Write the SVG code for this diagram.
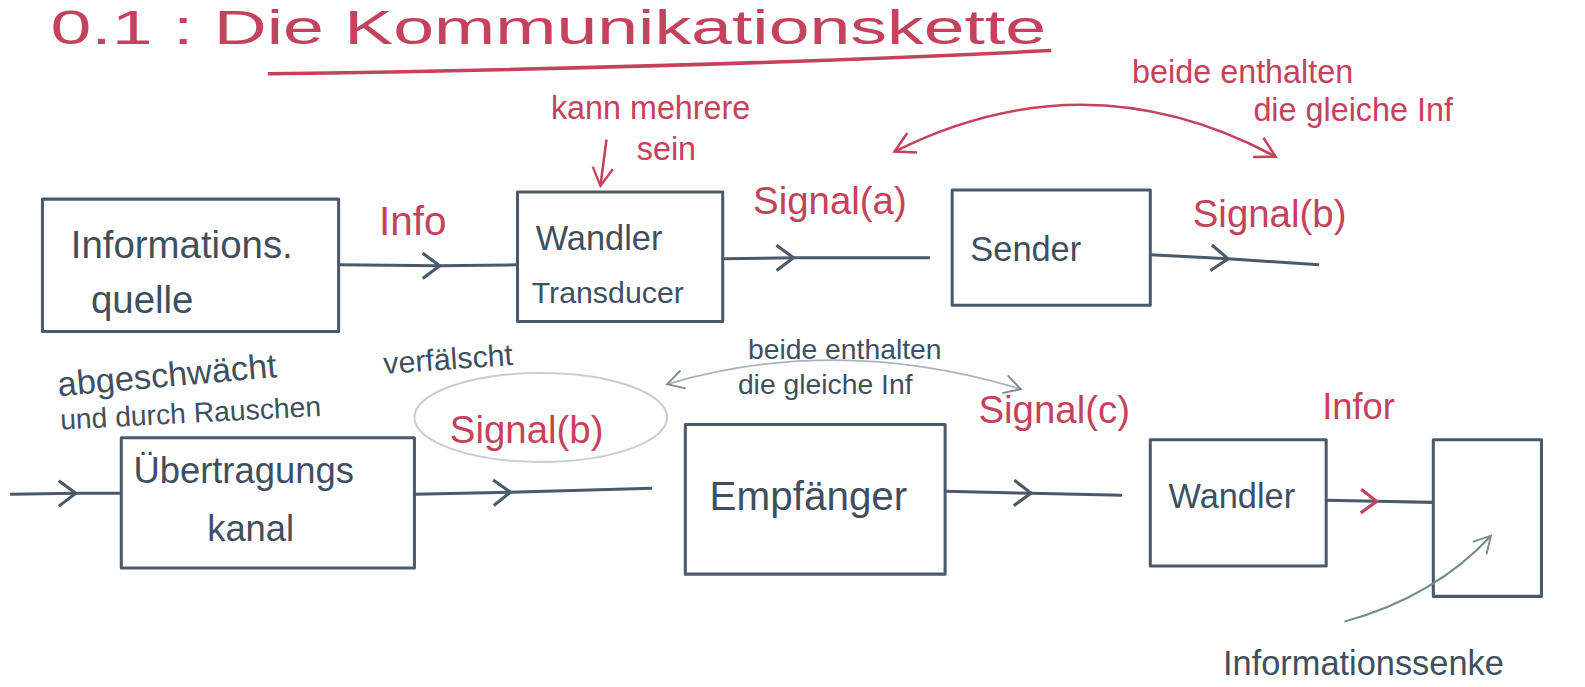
<svg xmlns="http://www.w3.org/2000/svg" width="1585" height="687" viewBox="0 0 1585 687">
<style>
.box{fill:none;stroke:#4a5a6a;stroke-width:3;stroke-linejoin:round}
.t{font-family:"Liberation Sans",Arial,sans-serif;fill:#3f4f5f}
.r{font-family:"Liberation Sans",Arial,sans-serif;fill:#c5425c}
.ln{fill:none;stroke:#4a5a6a;stroke-width:3;marker-mid:url(#chev)}
.lnr{fill:none;stroke:#4a5a6a;stroke-width:3;marker-mid:url(#chevr)}
</style>
<defs>
<marker id="chev" viewBox="0 0 20 20" refX="14" refY="10" markerWidth="28" markerHeight="28" markerUnits="userSpaceOnUse" orient="auto">
<path d="M2,1 L14,10 L2,19" fill="none" stroke="#4a5a6a" stroke-width="2.2"/>
</marker>
<marker id="chevr" viewBox="0 0 20 20" refX="14" refY="10" markerWidth="26" markerHeight="26" markerUnits="userSpaceOnUse" orient="auto">
<path d="M2,1 L14,10 L2,19" fill="none" stroke="#c5425c" stroke-width="2.4"/>
</marker>
<marker id="redhead" viewBox="0 0 24 24" refX="20" refY="12" markerWidth="26" markerHeight="26" markerUnits="userSpaceOnUse" orient="auto-start-reverse">
<path d="M2,2 L20,12 L2,22" fill="none" stroke="#c5425c" stroke-width="2.3"/>
</marker>
<marker id="grayhead" viewBox="0 0 24 24" refX="20" refY="12" markerWidth="22" markerHeight="22" markerUnits="userSpaceOnUse" orient="auto-start-reverse">
<path d="M2,2 L20,12 L2,22" fill="none" stroke="#7d8a94" stroke-width="2"/>
</marker>
<marker id="darkhead" viewBox="0 0 24 24" refX="20" refY="12" markerWidth="24" markerHeight="24" markerUnits="userSpaceOnUse" orient="auto">
<path d="M2,2 L20,12 L2,22" fill="none" stroke="#c5425c" stroke-width="2.3"/>
</marker>
</defs>
<rect width="1585" height="687" fill="#ffffff"/>
<g transform="scale(1.0108)">
<g id="title">
<text class="r" x="50" y="44" font-size="48" textLength="985" lengthAdjust="spacingAndGlyphs">0.1 : Die Kommunikationskette</text>
<path d="M265,73 C480,70 760,64 1040,50" fill="none" stroke="#c5425c" stroke-width="3.5"/>
</g>
<g id="n-quelle">
<rect class="box" x="42" y="197" width="293" height="131"/>
<text class="t" x="70" y="255" font-size="38">Informations.</text>
<text class="t" x="90" y="310" font-size="38">quelle</text>
</g>
<g id="n-wandler1">
<rect class="box" x="512" y="190" width="203" height="128"/>
<text class="t" x="530" y="247" font-size="34">Wandler</text>
<text class="t" x="526" y="300" font-size="30">Transducer</text>
</g>
<g id="n-sender">
<rect class="box" x="942" y="188" width="196" height="114"/>
<text class="t" x="960" y="258" font-size="34">Sender</text>
</g>
<g id="n-kanal">
<rect class="box" x="120" y="433" width="290" height="129"/>
<text class="t" x="132" y="478" font-size="36">Übertragungs</text>
<text class="t" x="205" y="535" font-size="36">kanal</text>
</g>
<g id="n-empfaenger">
<rect class="box" x="678" y="420" width="257" height="148"/>
<text class="t" x="702" y="505" font-size="40">Empfänger</text>
</g>
<g id="n-wandler2">
<rect class="box" x="1138" y="435" width="174" height="125"/>
<text class="t" x="1156" y="503" font-size="34">Wandler</text>
</g>
<g id="n-senke">
<rect class="box" x="1418" y="435" width="107" height="155"/>
<text class="t" x="1210" y="668" font-size="34">Informationssenke</text>
</g>
<g id="labels">
<text class="r" x="545" y="118" font-size="32">kann mehrere</text>
<text class="r" x="630" y="158" font-size="32">sein</text>
<text class="r" x="1120" y="82" font-size="32">beide enthalten</text>
<text class="r" x="1240" y="120" font-size="32">die gleiche Inf</text>
<text class="r" x="375" y="232" font-size="40">Info</text>
<text class="r" x="745" y="212" font-size="38">Signal(a)</text>
<text class="r" x="1180" y="225" font-size="38">Signal(b)</text>
<text class="t" x="58" y="392" font-size="34" transform="rotate(-5 58 392)">abgeschwächt</text>
<text class="t" x="380" y="370" font-size="30" transform="rotate(-4 380 370)">verfälscht</text>
<text class="t" x="60" y="425" font-size="28" transform="rotate(-3 60 425)">und durch Rauschen</text>
<ellipse cx="535" cy="413" rx="125" ry="44" fill="none" stroke="#c8cdd2" stroke-width="2"/>
<text class="r" x="445" y="438" font-size="38">Signal(b)</text>
<text class="t" x="740" y="355" font-size="28">beide enthalten</text>
<text class="t" x="730" y="390" font-size="28">die gleiche Inf</text>
<text class="r" x="968" y="418" font-size="38">Signal(c)</text>
<text class="r" x="1308" y="415" font-size="36">Infor</text>
</g>
<g id="connectors">
<path class="ln" d="M335,262 L435,263 L512,262"/>
<path class="ln" d="M715,256 L785,255 L920,255"/>
<path class="ln" d="M1138,252 L1215,256 L1305,262"/>
<path class="ln" d="M10,489 L75,488 L120,488"/>
<path class="ln" d="M410,489 L505,487 L645,483"/>
<path class="ln" d="M935,486 L1020,488 L1110,490"/>
<path class="lnr" d="M1312,495 L1362,496 L1418,497"/>
<path d="M600,138 L594,184" fill="none" stroke="#c5425c" stroke-width="2.5" marker-end="url(#darkhead)"/>
<path d="M885,150 Q1075,55 1262,155" fill="none" stroke="#c5425c" stroke-width="2.5" marker-start="url(#redhead)" marker-end="url(#redhead)"/>
<path d="M660,380 Q830,330 1010,385" fill="none" stroke="#aab3ba" stroke-width="1.8" marker-start="url(#grayhead)" marker-end="url(#grayhead)"/>
<path d="M1330,615 Q1420,590 1475,530" fill="none" stroke="#6f8f86" stroke-width="2" marker-end="url(#grayhead)"/>
</g>
</g>
</svg>
